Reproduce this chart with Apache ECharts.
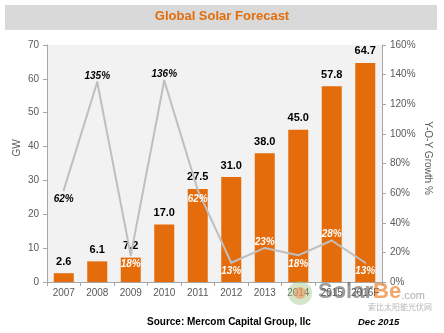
<!DOCTYPE html>
<html><head><meta charset="utf-8">
<script src="https://cdn.jsdelivr.net/npm/echarts@6/dist/echarts.min.js"></script>
<style>html,body{margin:0;padding:0;background:#fff}#c{width:444px;height:333px}</style>
</head><body><div id="c"></div>
<script>
const categories = ['2007','2008','2009','2010','2011','2012','2013','2014','2015','2016F'];
const capacityGW = [2.6, 6.1, 7.2, 17.0, 27.5, 31.0, 38.0, 45.0, 57.8, 64.7];
const growthPct = [62, 135, 18, 136, 62, 13, 23, 18, 28, 13];
const leftTicks = [0, 70, 10];
const rightTicks = [0, 160, 20];
const leftAxisName = 'GW';
const rightAxisName = 'Y-O-Y Growth %';

const chart = echarts.init(document.getElementById('c'), null, {renderer: 'canvas'});
const FONT = 'Liberation Sans';
const lineData = growthPct.map((v, i) => {
  const prev = i > 0 ? growthPct[i-1] : -Infinity;
  const next = i < growthPct.length - 1 ? growthPct[i+1] : -Infinity;
  const isTop = v > prev && v > next;
  const gwEq = v / rightTicks[1] * leftTicks[1];
  const labelGW = isTop ? gwEq + 3 : gwEq - 3;
  const inside = labelGW < capacityGW[i];
  return {value: v, label: {show: true, position: isTop ? 'top' : 'bottom', color: inside ? '#ffffff' : '#000000', distance: isTop ? 0 : 3}};
});

chart.setOption({
  animation: false,
  backgroundColor: '#ffffff',
  graphic: [
    {type: 'rect', left: 5, top: 5, shape: {width: 432, height: 25}, style: {fill: '#d9d9d9'}, z: -1},
    {type: 'text', left: 'center', top: 10, style: {text: 'Global Solar Forecast', fill: '#e46c0a', font: 'bold 13px ' + FONT}},
    {type: 'text', left: 147, top: 317, style: {text: 'Source: Mercom Capital Group, llc', fill: '#000', font: 'bold 10px ' + FONT}},
    {type: 'text', left: 358, top: 317, style: {text: 'Dec 2015', fill: '#000', font: 'italic bold 9.5px ' + FONT}},
    {type: 'text', x: 17, y: 148, rotation: Math.PI / 2, style: {text: leftAxisName, fill: '#595959', font: '10px ' + FONT, align: 'center', verticalAlign: 'middle'}},
    {type: 'text', x: 428, y: 158, rotation: -Math.PI / 2, style: {text: rightAxisName, fill: '#595959', font: '10px ' + FONT, align: 'center', verticalAlign: 'middle'}},
    {type: 'circle', shape: {cx: 300, cy: 293, r: 12}, style: {fill: 'rgba(150,190,120,0.4)'}, z: 20},
    {type: 'circle', shape: {cx: 300, cy: 293, r: 6}, style: {fill: 'rgba(240,150,90,0.6)'}, z: 21},
    {type: 'text', left: 318, top: 281, style: {rich: {a: {fill: 'rgba(90,90,90,0.6)', font: 'bold 22px ' + FONT}, b: {fill: 'rgba(228,108,10,0.6)', font: 'bold 22px ' + FONT}, c: {fill: 'rgba(120,120,120,0.6)', font: '11px ' + FONT, padding: [8,0,0,0]}}, text: '{a|Solar}{b|Be}{c|.com}'}, z: 20},
    {type: 'text', left: 368, top: 303, style: {text: '索比太阳能光伏网', fill: 'rgba(150,150,150,0.7)', font: '8px "Noto Sans CJK SC"'}, z: 20}
  ],
  grid: {left: 47, right: 62, top: 45, bottom: 51, show: true, backgroundColor: '#f2f2f2', borderWidth: 0},
  xAxis: {
    type: 'category', data: categories,
    axisLine: {lineStyle: {color: '#a6a6a6'}},
    axisTick: {show: true, alignWithLabel: false, length: 4, lineStyle: {color: '#a6a6a6'}},
    axisLabel: {color: '#595959', fontSize: 10, fontFamily: FONT, margin: 6, interval: 0}
  },
  yAxis: [
    {type: 'value', min: leftTicks[0], max: leftTicks[1], interval: leftTicks[2],
     axisLine: {show: true, lineStyle: {color: '#a6a6a6'}},
     axisTick: {show: true, length: 4, lineStyle: {color: '#a6a6a6'}},
     axisLabel: {color: '#595959', fontSize: 10, fontFamily: FONT, margin: 8},
     splitLine: {show: false}},
    {type: 'value', min: rightTicks[0], max: rightTicks[1], interval: rightTicks[2],
     axisLine: {show: true, lineStyle: {color: '#a6a6a6'}},
     axisTick: {show: true, length: 4, lineStyle: {color: '#a6a6a6'}},
     axisLabel: {color: '#595959', fontSize: 10, fontFamily: FONT, margin: 8, formatter: '{value}%'},
     splitLine: {show: false}}
  ],
  series: [
    {type: 'bar', data: capacityGW, barWidth: 20, itemStyle: {color: '#e46c0a'},
     label: {show: true, position: 'top', distance: 6, color: '#000', fontWeight: 'bold', fontSize: 11, fontFamily: FONT,
             formatter: p => p.value.toFixed(1)}},
    {type: 'line', yAxisIndex: 1, data: lineData, symbol: 'circle', symbolSize: 2, showSymbol: true, z: 5,
     itemStyle: {color: '#bfbfbf'},
     lineStyle: {color: '#bfbfbf', width: 2},
     labelLayout: {hideOverlap: false},
     label: {show: true, fontStyle: 'italic', fontWeight: 'bold', fontSize: 10, fontFamily: FONT, formatter: '{c}%'}}
  ]
});
</script></body></html>
